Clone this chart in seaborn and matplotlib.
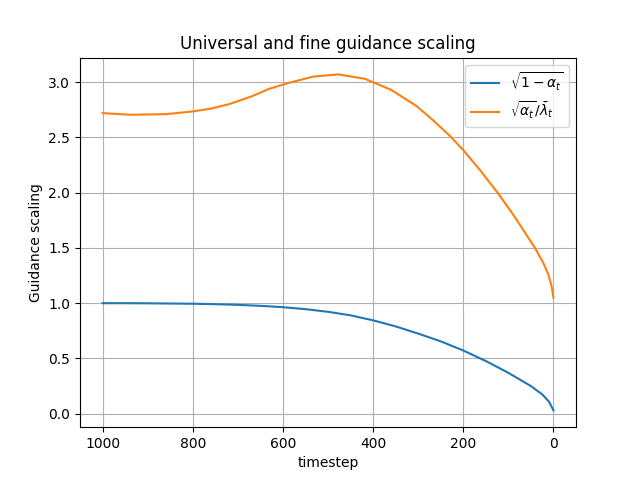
import numpy as np
import pandas as pd
import matplotlib
matplotlib.use("Agg")
import matplotlib.pyplot as plt
import seaborn as sns

# values
blue_t = [1000, 950, 900, 850, 800, 750, 700, 650, 600, 550, 500, 450,
          400, 350, 300, 250, 200, 150, 100, 50, 25, 10, 0]
blue_y = [1.0, 1.0, 0.999, 0.997, 0.995, 0.991, 0.985, 0.976, 0.964, 0.946,
          0.922, 0.89, 0.845, 0.79, 0.725, 0.655, 0.572, 0.477, 0.37, 0.25,
          0.175, 0.11, 0.03]

orange_t = [1000, 940, 860, 800, 760, 720, 670, 630, 590, 533, 477, 418,
            360, 304, 267, 230, 200, 163, 124, 89, 41, 22, 11, 4, 0]
orange_y = [2.72, 2.705, 2.71, 2.735, 2.76, 2.80, 2.87, 2.94, 2.99, 3.05,
            3.07, 3.03, 2.93, 2.785, 2.655, 2.515, 2.385, 2.205, 2.0, 1.80,
            1.50, 1.36, 1.256, 1.15, 1.05]

labels = [r'$\sqrt{1-\alpha_t}$', r'$\sqrt{\alpha_t}/\bar{\lambda}_t$']

fig, ax = plt.subplots(figsize=(6.4, 4.8), dpi=100)
sns.lineplot(x=blue_t, y=blue_y, ax=ax, color='tab:blue', label=labels[0])
sns.lineplot(x=orange_t, y=orange_y, ax=ax, color='tab:orange', label=labels[1])

ax.invert_xaxis()
ax.grid(True)
ax.set_xlabel('timestep')
ax.set_ylabel('Guidance scaling')
ax.set_title('Universal and fine guidance scaling')
ax.legend(loc='upper right')

plt.savefig('out.png')
